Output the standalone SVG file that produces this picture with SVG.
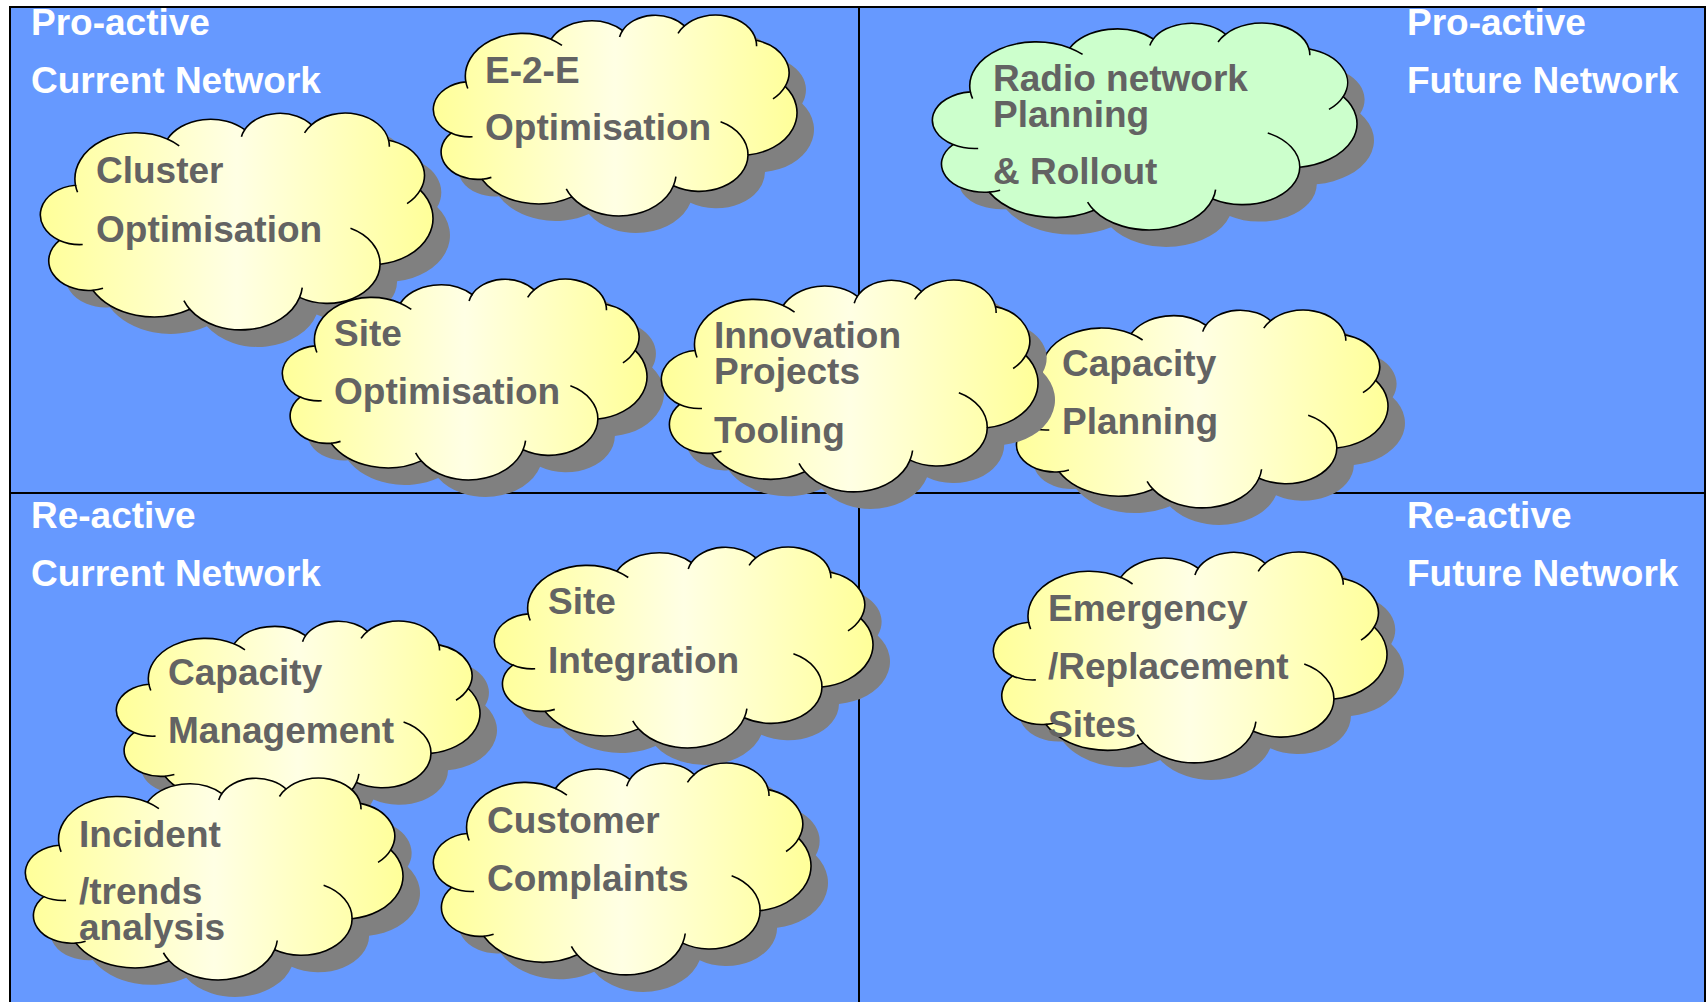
<svg xmlns="http://www.w3.org/2000/svg" xmlns:xlink="http://www.w3.org/1999/xlink" width="1706" height="1002" viewBox="0 0 1706 1002">
  <defs>
    <linearGradient id="yel" x1="0" y1="0" x2="1" y2="0">
      <stop offset="0" stop-color="#FFFF99"/>
      <stop offset="0.5" stop-color="#FFFFE4"/>
      <stop offset="1" stop-color="#FFFF99"/>
    </linearGradient>
    <path id="cloudShape" vector-effect="non-scaling-stroke" d="M 39 143.7 A 67.53 91.9 0 0 1 140.05 52.02 A 53.33 72.67 0 0 1 225 33.3 A 43.65 59.45 0 0 1 298.4 23.5 A 48.57 65.95 0 0 1 383.24 54.26 A 53.33 72.73 0 0 1 417.98 153.54 A 67.75 92.2 0 0 1 373.84 300.97 A 57.85 78.67 0 0 1 285.36 367.08 A 67.52 92.15 0 0 1 164.78 390.9 A 77.2 105.43 0 0 1 58.03 352.96 A 43.6 59.18 0 0 1 21.4 253.7 A 43.45 59.45 0 0 1 39 143.7 Z"/>
    <path id="cloudInner" vector-effect="non-scaling-stroke" d="M 46.93 261.77 A 43.45 59.45 0 0 1 21.4 253.7 M 69.28 348.99 A 43.6 59.18 0 0 1 58.03 352.96 M 164.78 390.9 A 67.52 92.15 0 0 1 158.17 373.71 M 288.27 347.51 A 67.52 92.15 0 0 1 285.36 367.08 M 341.29 229.54 A 57.85 78.67 0 0 1 373.84 300.97 M 417.98 153.54 A 53.33 72.73 0 0 1 403.5 180.3 M 383.24 54.26 A 48.57 65.95 0 0 1 384.02 67.09 M 290.78 39.52 A 48.57 65.95 0 0 1 298.4 23.5 M 221.41 47.2 A 43.65 59.45 0 0 1 225 33.3 M 140 51.92 A 67.53 91.9 0 0 1 153.05 65.5 M 41.27 157.89 A 67.53 91.9 0 0 1 39 143.7"/>
  </defs>
  <style>
    .bg { fill: #6699FF; stroke: #000000; stroke-width: 2; }
    .div { stroke: #000000; stroke-width: 2; fill: none; }
    .shadow { fill: #808080; stroke: none; }
    .cy { fill: url(#yel); stroke: #000000; stroke-width: 1.6; }
    .cg { fill: #CCFFCC; stroke: #000000; stroke-width: 1.6; }
    .inner { fill: none; stroke: #000000; stroke-width: 1.6; }
    .hdr { font-family: "Liberation Sans", Arial, sans-serif; font-weight: bold; font-size: 37px; fill: #FFFFFF; }
    .lbl { font-family: "Liberation Sans", Arial, sans-serif; font-weight: bold; font-size: 37px; fill: #636363; }
  </style>

  <rect class="bg" x="10" y="7" width="1695" height="1010"/>

  <g id="dividers">
    <line class="div" x1="859" y1="7" x2="859" y2="1002"/>
    <line class="div" x1="10" y1="493" x2="1706" y2="493"/>
  </g>

  <g id="headers">
    <text class="hdr" x="31" y="35">Pro-active</text>
    <text class="hdr" x="31" y="93">Current Network</text>
    <text class="hdr" x="1407" y="35">Pro-active</text>
    <text class="hdr" x="1407" y="93">Future Network</text>
    <text class="hdr" x="31" y="528">Re-active</text>
    <text class="hdr" x="31" y="586">Current Network</text>
    <text class="hdr" x="1407" y="528">Re-active</text>
    <text class="hdr" x="1407" y="586">Future Network</text>
  </g>

  <g id="cluster-optimisation">
    <use xlink:href="#cloudShape" class="shadow" transform="translate(57,130) scale(0.9097,0.5023)"/>
    <use xlink:href="#cloudShape" class="cy" transform="translate(40,113) scale(0.9097,0.5023)"/>
    <use xlink:href="#cloudInner" class="inner" transform="translate(40,113) scale(0.9097,0.5023)"/>
    <text class="lbl" x="96" y="183">Cluster</text>
    <text class="lbl" x="96" y="242">Optimisation</text>
  </g>

  <g id="e2e-optimisation">
    <use xlink:href="#cloudShape" class="shadow" transform="translate(450,32) scale(0.8426,0.4653)"/>
    <use xlink:href="#cloudShape" class="cy" transform="translate(433,15) scale(0.8426,0.4653)"/>
    <use xlink:href="#cloudInner" class="inner" transform="translate(433,15) scale(0.8426,0.4653)"/>
    <text class="lbl" x="485" y="83">E-2-E</text>
    <text class="lbl" x="485" y="140">Optimisation</text>
  </g>

  <g id="radio-network-planning">
    <use xlink:href="#cloudShape" class="shadow" transform="translate(949,40) scale(0.9838,0.4792)"/>
    <use xlink:href="#cloudShape" class="cg" transform="translate(932,23) scale(0.9838,0.4792)"/>
    <use xlink:href="#cloudInner" class="inner" transform="translate(932,23) scale(0.9838,0.4792)"/>
    <text class="lbl" x="993" y="91">Radio network</text>
    <text class="lbl" x="993" y="127">Planning</text>
    <text class="lbl" x="993" y="184">&amp; Rollout</text>
  </g>

  <g id="site-optimisation">
    <use xlink:href="#cloudShape" class="shadow" transform="translate(299,296) scale(0.8449,0.4653)"/>
    <use xlink:href="#cloudShape" class="cy" transform="translate(282,279) scale(0.8449,0.4653)"/>
    <use xlink:href="#cloudInner" class="inner" transform="translate(282,279) scale(0.8449,0.4653)"/>
    <text class="lbl" x="334" y="346">Site</text>
    <text class="lbl" x="334" y="404">Optimisation</text>
  </g>

  <g id="capacity-planning">
    <use xlink:href="#cloudShape" class="shadow" transform="translate(1025,327) scale(0.8796,0.4583)"/>
    <use xlink:href="#cloudShape" class="cy" transform="translate(1008,310) scale(0.8796,0.4583)"/>
    <use xlink:href="#cloudInner" class="inner" transform="translate(1008,310) scale(0.8796,0.4583)"/>
    <text class="lbl" x="1062" y="376">Capacity</text>
    <text class="lbl" x="1062" y="434">Planning</text>
  </g>

  <g id="innovation-projects">
    <use xlink:href="#cloudShape" class="shadow" transform="translate(678,297) scale(0.8727,0.4907)"/>
    <use xlink:href="#cloudShape" class="cy" transform="translate(661,280) scale(0.8727,0.4907)"/>
    <use xlink:href="#cloudInner" class="inner" transform="translate(661,280) scale(0.8727,0.4907)"/>
    <text class="lbl" x="714" y="348">Innovation</text>
    <text class="lbl" x="714" y="384">Projects</text>
    <text class="lbl" x="714" y="443">Tooling</text>
  </g>

  <g id="capacity-management">
    <use xlink:href="#cloudShape" class="shadow" transform="translate(133,638) scale(0.8426,0.4398)"/>
    <use xlink:href="#cloudShape" class="cy" transform="translate(116,621) scale(0.8426,0.4398)"/>
    <use xlink:href="#cloudInner" class="inner" transform="translate(116,621) scale(0.8426,0.4398)"/>
    <text class="lbl" x="168" y="685">Capacity</text>
    <text class="lbl" x="168" y="743">Management</text>
  </g>

  <g id="incident-trends">
    <use xlink:href="#cloudShape" class="shadow" transform="translate(42,795) scale(0.875,0.4676)"/>
    <use xlink:href="#cloudShape" class="cy" transform="translate(25,778) scale(0.875,0.4676)"/>
    <use xlink:href="#cloudInner" class="inner" transform="translate(25,778) scale(0.875,0.4676)"/>
    <text class="lbl" x="79" y="847">Incident</text>
    <text class="lbl" x="79" y="904">/trends</text>
    <text class="lbl" x="79" y="940">analysis</text>
  </g>

  <g id="site-integration">
    <use xlink:href="#cloudShape" class="shadow" transform="translate(511,564) scale(0.8773,0.4653)"/>
    <use xlink:href="#cloudShape" class="cy" transform="translate(494,547) scale(0.8773,0.4653)"/>
    <use xlink:href="#cloudInner" class="inner" transform="translate(494,547) scale(0.8773,0.4653)"/>
    <text class="lbl" x="548" y="614">Site</text>
    <text class="lbl" x="548" y="673">Integration</text>
  </g>

  <g id="customer-complaints">
    <use xlink:href="#cloudShape" class="shadow" transform="translate(450,780) scale(0.875,0.4907)"/>
    <use xlink:href="#cloudShape" class="cy" transform="translate(433,763) scale(0.875,0.4907)"/>
    <use xlink:href="#cloudInner" class="inner" transform="translate(433,763) scale(0.875,0.4907)"/>
    <text class="lbl" x="487" y="833">Customer</text>
    <text class="lbl" x="487" y="891">Complaints</text>
  </g>

  <g id="emergency-replacement">
    <use xlink:href="#cloudShape" class="shadow" transform="translate(1010,569) scale(0.912,0.4884)"/>
    <use xlink:href="#cloudShape" class="cy" transform="translate(993,552) scale(0.912,0.4884)"/>
    <use xlink:href="#cloudInner" class="inner" transform="translate(993,552) scale(0.912,0.4884)"/>
    <text class="lbl" x="1048" y="621">Emergency</text>
    <text class="lbl" x="1048" y="679">/Replacement</text>
    <text class="lbl" x="1048" y="737">Sites</text>
  </g>
</svg>
